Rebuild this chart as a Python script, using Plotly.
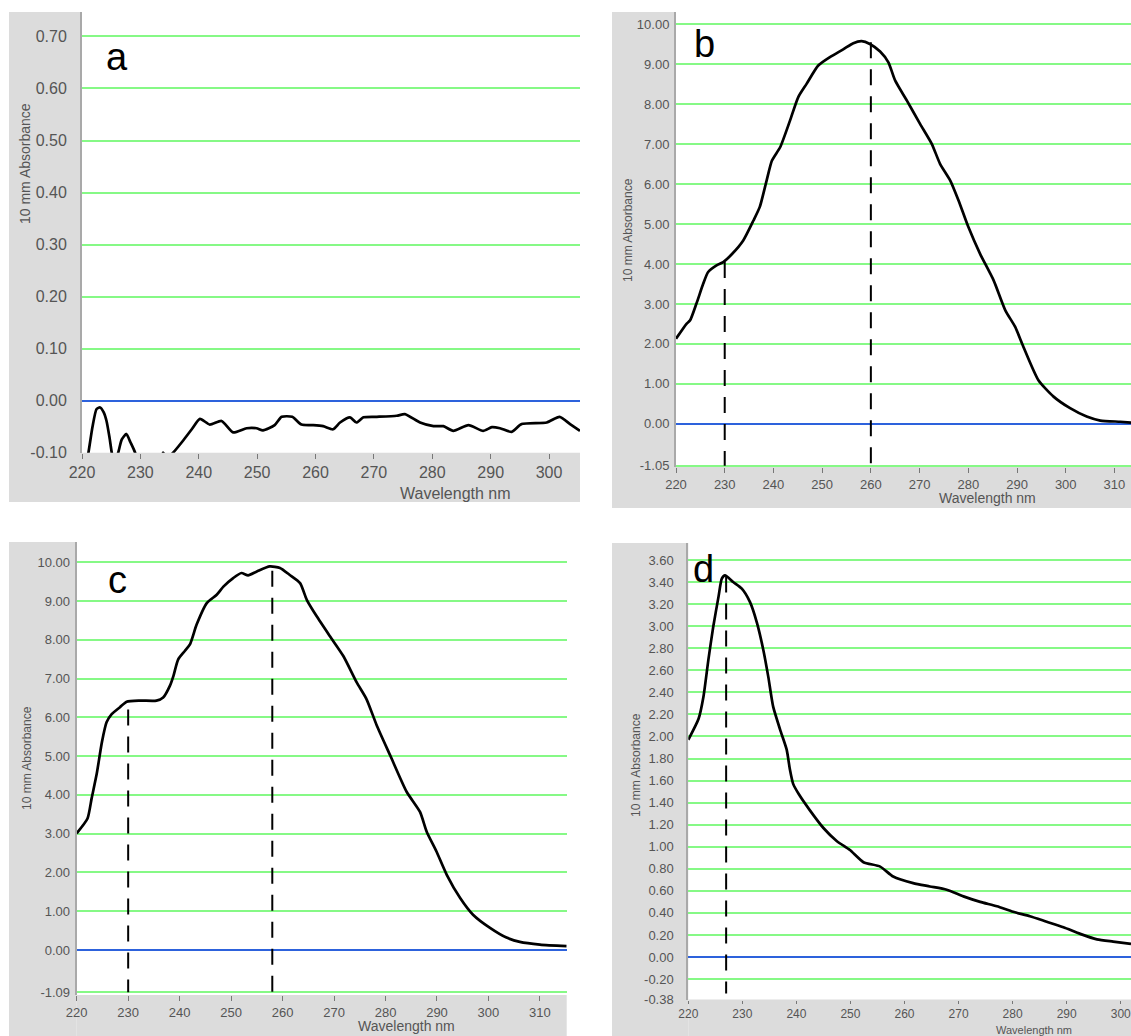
import plotly.graph_objects as go

W, H = 1131, 1036

# ---------------- data ----------------
x_ticks = [220, 230, 240, 250, 260, 270, 280, 290, 300, 310]

a_nm = [220.0, 221.1, 221.8, 222.5, 223.1, 223.7, 224.2, 224.7, 225.1, 225.5, 226.2, 226.8,
        227.6, 228.3, 229.1, 230.0, 232.0, 233.6, 233.9, 234.5, 235.6, 237.3, 238.8, 240.2,
        241.9, 243.9, 245.9, 248.2, 249.9, 251.0, 253.0, 254.2, 256.0, 257.6, 259.6, 261.3,
        263.0, 264.2, 265.9, 267.0, 268.2, 270.5, 273.9, 275.3, 277.9, 280.2, 281.9, 283.6,
        286.2, 288.7, 290.2, 291.6, 293.6, 295.3, 299.6, 301.8, 303.6, 305.3]
a_abs = [-0.16, -0.10, -0.05, -0.016, -0.013, -0.022, -0.039, -0.07, -0.10, -0.12, -0.10, -0.075,
         -0.064, -0.08, -0.10, -0.14, -0.15, -0.11, -0.10, -0.11, -0.10, -0.077, -0.055, -0.035,
         -0.046, -0.039, -0.061, -0.053, -0.053, -0.057, -0.047, -0.031, -0.031, -0.046, -0.047, -0.049,
         -0.055, -0.042, -0.032, -0.042, -0.032, -0.031, -0.029, -0.026, -0.042, -0.049, -0.049, -0.058,
         -0.047, -0.058, -0.051, -0.053, -0.060, -0.045, -0.042, -0.031, -0.045, -0.058]
a_yticks = [-0.10, 0.00, 0.10, 0.20, 0.30, 0.40, 0.50, 0.60, 0.70]

b_nm = [220.0, 222.2, 222.9, 224.2, 225.6, 226.6, 228.4, 229.7, 231.5, 233.8, 235.9, 237.2,
        238.6, 239.7, 241.4, 243.4, 245.1, 246.8, 249.2, 251.6, 254.4, 256.4, 258.1, 259.8,
        261.9, 263.6, 265.0, 267.4, 270.1, 272.5, 274.2, 276.3, 278.0, 280.0, 282.4, 285.2,
        287.6, 289.6, 291.3, 294.4, 297.5, 300.9, 304.3, 307.1, 311.2, 313.4]
b_abs = [2.13, 2.51, 2.59, 3.01, 3.51, 3.80, 3.97, 4.05, 4.25, 4.59, 5.09, 5.43,
         6.09, 6.59, 6.93, 7.59, 8.18, 8.51, 8.97, 9.18, 9.38, 9.53, 9.58, 9.51,
         9.32, 9.05, 8.59, 8.09, 7.51, 7.01, 6.51, 6.09, 5.59, 4.93, 4.26, 3.59,
         2.84, 2.43, 1.93, 1.09, 0.68, 0.39, 0.18, 0.08, 0.05, 0.03]
b_yticks = [-1.05, 0, 1, 2, 3, 4, 5, 6, 7, 8, 9, 10]
b_mark_nm = [230, 260]
b_mark_top = [4.05, 9.55]

c_nm = [220.0, 222.1, 222.9, 223.9, 224.9, 225.8, 226.8, 228.4, 229.7, 232.3, 235.5, 236.8,
        238.1, 238.8, 239.7, 241.0, 242.0, 243.3, 245.3, 247.2, 248.5, 250.4, 252.0, 253.3,
        255.0, 257.5, 259.5, 261.4, 263.4, 264.7, 266.6, 269.2, 271.8, 274.4, 276.3, 278.3,
        280.9, 284.1, 286.7, 288.0, 289.9, 291.9, 294.5, 297.0, 300.3, 303.5, 306.1, 310.0, 315.2]
c_abs = [3.01, 3.39, 3.91, 4.55, 5.36, 5.87, 6.08, 6.26, 6.40, 6.43, 6.43, 6.51,
         6.81, 7.07, 7.49, 7.71, 7.88, 8.39, 8.95, 9.16, 9.37, 9.59, 9.72, 9.66,
         9.76, 9.89, 9.85, 9.67, 9.46, 9.03, 8.61, 8.09, 7.58, 6.90, 6.47, 5.79,
         5.02, 4.08, 3.56, 3.05, 2.54, 1.94, 1.34, 0.91, 0.57, 0.32, 0.21, 0.14, 0.10]
c_yticks = [-1.09, 0, 1, 2, 3, 4, 5, 6, 7, 8, 9, 10]
c_mark_nm = [230, 258]
c_mark_top = [6.2, 9.78]

d_nm = [220.0, 221.9, 222.8, 223.7, 224.6, 225.6, 226.2, 226.8, 228.3, 229.9, 231.4, 232.7,
        233.9, 234.8, 235.7, 237.0, 238.2, 238.8, 239.4, 240.4, 242.5, 245.0, 247.5, 249.9,
        252.4, 255.5, 257.9, 261.6, 264.7, 267.8, 270.9, 274.0, 277.1, 280.1, 283.2, 286.3,
        289.4, 292.5, 295.6, 298.6, 301.9]
d_abs = [1.97, 2.16, 2.36, 2.69, 2.99, 3.27, 3.43, 3.46, 3.40, 3.34, 3.22, 3.03,
         2.78, 2.54, 2.27, 2.06, 1.88, 1.70, 1.57, 1.48, 1.33, 1.17, 1.05, 0.97,
         0.86, 0.82, 0.73, 0.67, 0.64, 0.61, 0.55, 0.50, 0.46, 0.41, 0.37, 0.32,
         0.27, 0.21, 0.16, 0.14, 0.12]
d_yticks = [-0.38, -0.20, 0.00, 0.20, 0.40, 0.60, 0.80, 1.00, 1.20, 1.40, 1.60, 1.80,
            2.00, 2.20, 2.40, 2.60, 2.80, 3.00, 3.20, 3.40, 3.60]
d_mark_nm = [227]
d_mark_top = [3.45]

# ---------------- layout description (pixels) ----------------
# xtitle_xy: (centre x, bottom y) of the "Wavelength nm" text box
panels = [
    dict(letter="a", nm=a_nm, ab=a_abs, yt=a_yticks, mk=[], mt=[], mbot=None,
         xr=[220, 305.3], yr=[-0.10, 0.747],
         box=(82, 580, 12, 452.7), grey=(9, 580, 12, 502), tf=16, xtf=16, tl=5, yf=14, xf=16,
         stand=10, letter_xy=(117, 57), ytitle_xy=(25, 164), xtitle_xy=(455, 503)),
    dict(letter="b", nm=b_nm, ab=b_abs, yt=b_yticks, mk=b_mark_nm, mt=b_mark_top, mbot=-1.05,
         xr=[220, 313.4], yr=[-1.08, 10.31],
         box=(676, 1131, 12, 466.9), grey=(612, 1131, 12, 508), tf=13, xtf=13, tl=5, yf=12, xf=14,
         stand=2, letter_xy=(704, 44), ytitle_xy=(628, 230), xtitle_xy=(987, 507)),
    dict(letter="c", nm=c_nm, ab=c_abs, yt=c_yticks, mk=c_mark_nm, mt=c_mark_top, mbot=-1.09,
         xr=[220, 315.2], yr=[-1.16, 10.52],
         box=(76.7, 566.7, 542, 995), grey=(9, 566.7, 542, 1036), tf=13, xtf=13, tl=5, yf=12, xf=14,
         stand=2, letter_xy=(117, 580), ytitle_xy=(27, 758), xtitle_xy=(406, 1035)),
    dict(letter="d", nm=d_nm, ab=d_abs, yt=d_yticks, mk=d_mark_nm, mt=d_mark_top, mbot=-0.33,
         xr=[220, 301.9], yr=[-0.385, 3.754],
         box=(688.3, 1131, 543, 999.5), grey=(612, 1131, 543, 1036), tf=13, xtf=12, tl=3, yf=12, xf=11,
         stand=10, letter_xy=(703, 569), ytitle_xy=(636, 765), xtitle_xy=(1034, 1037)),
]

FONT = "Liberation Sans"
TICKCOL = "#555555"
GREEN = "#86f986"
BLUE = "#2d62dc"
GREY = "#dcdcdc"

fig = go.Figure()
shapes, annotations = [], []
layout = {}

def px_x(v):
    return v / W

def px_y(v):
    return 1 - v / H

for i, p in enumerate(panels, start=1):
    sfx = "" if i == 1 else str(i)
    xa, ya = "x" + sfx, "y" + sfx
    l, r, t, b = p["box"]
    gl, gr, gt, gb = p["grey"]

    fig.add_trace(go.Scatter(x=p["nm"], y=p["ab"], mode="lines", xaxis=xa, yaxis=ya,
                             line=dict(color="black", width=2.7, shape="spline", smoothing=0.6),
                             showlegend=False, hoverinfo="skip"))
    for mx, mt in zip(p["mk"], p["mt"]):
        fig.add_trace(go.Scatter(x=[mx, mx], y=[mt, p["mbot"]], mode="lines", xaxis=xa, yaxis=ya,
                                 line=dict(color="black", width=2, dash="16px,11px"),
                                 showlegend=False, hoverinfo="skip"))

    layout["xaxis" + sfx] = dict(
        domain=[px_x(l), min(px_x(r), 1)], range=p["xr"], anchor=ya, automargin=False,
        tickmode="array", tickvals=x_ticks, ticktext=[str(v) for v in x_ticks],
        showgrid=False, zeroline=False, showline=False, ticklabeloverflow="allow",
        ticks="outside", ticklen=p["tl"], tickwidth=1.2, tickcolor="#777777",
        tickfont=dict(family=FONT, size=p["xtf"], color=TICKCOL), fixedrange=True)
    layout["yaxis" + sfx] = dict(
        domain=[px_y(b), px_y(t)], range=p["yr"], anchor=xa, automargin=False,
        tickmode="array", tickvals=p["yt"], ticktext=["%.2f" % v for v in p["yt"]],
        showgrid=True, gridcolor=GREEN, gridwidth=2,
        zeroline=True, zerolinecolor=BLUE, zerolinewidth=2,
        showline=True, linecolor="#a9a9a9", linewidth=2,
        ticks="", ticklabelstandoff=p["stand"],
        tickfont=dict(family=FONT, size=p["tf"], color=TICKCOL), fixedrange=True)

    # grey frame (left strip + bottom strip), outside plot area
    shapes.append(dict(type="rect", xref="paper", yref="paper", layer="below",
                       x0=px_x(gl), x1=px_x(l), y0=px_y(gb), y1=px_y(gt),
                       fillcolor=GREY, line=dict(width=0)))
    shapes.append(dict(type="rect", xref="paper", yref="paper", layer="below",
                       x0=px_x(l), x1=px_x(gr), y0=px_y(gb), y1=px_y(b),
                       fillcolor=GREY, line=dict(width=0)))

    lx, ly = p["letter_xy"]
    annotations.append(dict(text=p["letter"], xref="paper", yref="paper",
                            x=px_x(lx), y=px_y(ly), xanchor="center", yanchor="middle",
                            showarrow=False, font=dict(family=FONT, size=38, color="black")))
    tx, ty = p["ytitle_xy"]
    annotations.append(dict(text="10 mm Absorbance", xref="paper", yref="paper",
                            x=px_x(tx), y=px_y(ty), xanchor="center", yanchor="middle",
                            textangle=-90, showarrow=False,
                            font=dict(family=FONT, size=p["yf"], color=TICKCOL)))
    wx, wy = p["xtitle_xy"]
    annotations.append(dict(text="Wavelength nm", xref="paper", yref="paper",
                            x=px_x(wx), y=px_y(wy), xanchor="center", yanchor="bottom",
                            showarrow=False, borderpad=0,
                            font=dict(family=FONT, size=p["xf"], color=TICKCOL)))

fig.update_layout(width=W, height=H, margin=dict(l=0, r=0, t=0, b=0, pad=0, autoexpand=False),
                  paper_bgcolor="white", plot_bgcolor="white",
                  shapes=shapes, annotations=annotations, showlegend=False, **layout)

fig.write_html("out.html", config={"displayModeBar": False})
